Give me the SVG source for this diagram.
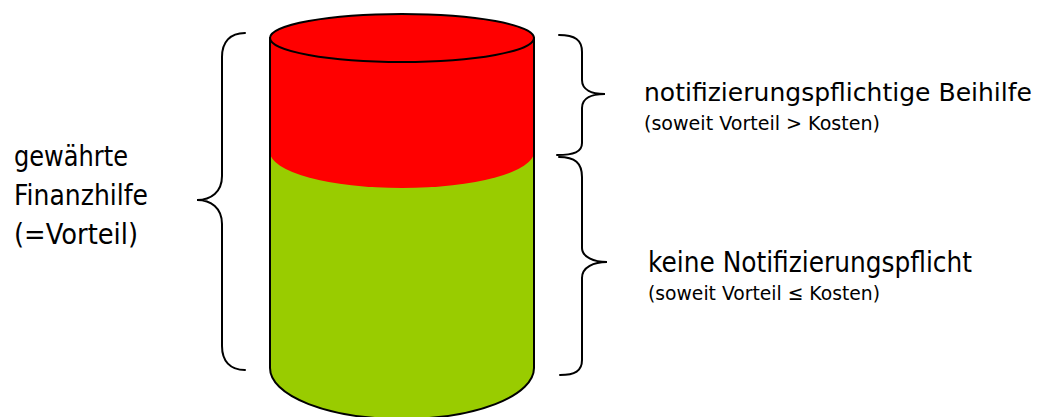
<svg xmlns="http://www.w3.org/2000/svg" width="1040" height="417" viewBox="0 0 1040 417">
  <style>
    .outline { stroke: #000; stroke-width: 2; stroke-linecap: round; stroke-linejoin: round; }
    .brace { fill: none; stroke: #000; stroke-width: 2; stroke-linecap: round; }
    .big { font-family: "DejaVu Sans", "Liberation Sans", sans-serif; font-size: 28px; fill: #000; }
    .mid { font-family: "DejaVu Sans", "Liberation Sans", sans-serif; font-size: 25px; fill: #000; }
    .small { font-family: "DejaVu Sans", "Liberation Sans", sans-serif; font-size: 20px; fill: #000; }
  </style>

  <!-- cylinder: green lower part, red upper part, outlines -->
  <g id="cylinder">
    <path d="M270,150 L270,368 A132,51 0 0 0 534,368 L534,150 Z" fill="#99CC00"/>
    <path d="M270,38 L270,152 A132,36 0 0 0 534,152 L534,38 Z" fill="#FF0000"/>
    <ellipse cx="402" cy="38" rx="132" ry="24" fill="#FF0000" class="outline"/>
    <path class="outline" fill="none" d="M270,38 L270,368 A132,51 0 0 0 534,368 L534,38"/>
  </g>

  <!-- curly braces -->
  <g id="braces">
    <path class="brace" d="M245,33 C230,33 222,42 222,57 L222,176 C222,192 211,200 197,200 C211,200 222,208 222,224 L222,346 C222,361 230,370 245,370"/>
    <path class="brace" d="M559,35 C575,35 582,40 582,52 L582,80 C582,90 592,94 605,94 C592,94 582,98 582,108 L582,143 C582,152 574,155 557,155"/>
    <path class="brace" d="M559,157 C575,157 582,163 582,177 L582,248 C582,257 594,262 607,262 C594,262 582,267 582,278 L582,360 C582,371 575,375 560,375"/>
  </g>

  <!-- labels -->
  <g id="label-left">
    <text class="big" x="14" y="166" textLength="114" lengthAdjust="spacingAndGlyphs">gewährte</text>
    <text class="big" x="14" y="205" textLength="134" lengthAdjust="spacingAndGlyphs">Finanzhilfe</text>
    <text class="big" x="14" y="244" textLength="124" lengthAdjust="spacingAndGlyphs">(=Vorteil)</text>
  </g>
  <g id="label-upper">
    <text class="mid" x="644" y="101" textLength="388" lengthAdjust="spacingAndGlyphs">notifizierungspflichtige Beihilfe</text>
    <text class="small" x="644" y="130" textLength="236" lengthAdjust="spacingAndGlyphs">(soweit Vorteil &gt; Kosten)</text>
  </g>
  <g id="label-lower">
    <text class="big" x="648" y="272" textLength="324" lengthAdjust="spacingAndGlyphs">keine Notifizierungspflicht</text>
    <text class="small" x="648" y="300" textLength="232" lengthAdjust="spacingAndGlyphs">(soweit Vorteil ≤ Kosten)</text>
  </g>
</svg>
